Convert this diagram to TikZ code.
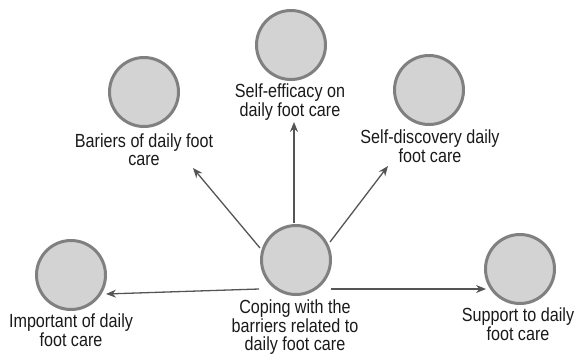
\documentclass[tikz,border=0pt]{standalone}
\usepackage{fontspec}
\setmainfont{Liberation Sans}[FakeStretch=0.85]
\usetikzlibrary{arrows.meta}
\definecolor{ringc}{HTML}{808080}
\definecolor{fillc}{HTML}{D3D3D3}
\definecolor{arrc}{HTML}{555555}
\definecolor{txtc}{HTML}{1A1A1A}
\tikzset{
  bubble/.style={circle, draw=ringc, fill=fillc, line width=3pt, minimum size=69pt, inner sep=0pt},
  lbl/.style={anchor=base, align=center, inner sep=0pt, text=txtc, font=\fontsize{19pt}{17.6pt}\selectfont},
  arr/.style={draw=arrc, line width=1.3pt, -{Stealth[length=10pt,width=8pt]}}
}
\begin{document}
\begin{tikzpicture}[x=1pt,y=-1pt]
\useasboundingbox (0,0) rectangle (574,354);
\node[bubble] (C) at (296,260) {};
\node[bubble] (T) at (291,45) {};
\node[bubble] (B) at (144,92) {};
\node[bubble] (D) at (429,90) {};
\node[bubble] (I) at (71,275) {};
\node[bubble] (S) at (520,269) {};

\node[lbl] (Ct) at (295,350) {Coping with the\\barriers related to\\daily foot care};
\node[lbl] (Tt) at (290,116) {Self-efficacy on\\daily foot care};
\node[lbl] (Bt) at (144,165) {Bariers of daily foot\\care};
\node[lbl] (Dt) at (430,162) {Self-discovery daily\\foot care};
\node[lbl] (It) at (71,346) {Important of daily\\foot care};
\node[lbl] (St) at (518,340) {Support to daily\\foot care};

\coordinate (cI) at ([shift={(-37,29)}]C.center);
\coordinate (cS) at ([shift={(35,29)}]C.center);
\coordinate (cB) at ([shift={(-36,-12)}]C.center);
\coordinate (cT) at ([shift={(-2,-37)}]C.center);
\coordinate (cD) at ([shift={(34,-18)}]C.center);
\coordinate (eI) at ([shift={(35,19)}]I.center);
\coordinate (eS) at ([shift={(-34,20)}]S.center);
\coordinate (eB) at ([shift={(49,76)}]B.center);
\coordinate (eT) at ([shift={(3,77)}]T.center);
\coordinate (eD) at ([shift={(-41,76)}]D.center);

\draw[arr] (cI) -- (eI);
\draw[arr] (cS) -- (eS);
\draw[arr] (cB) -- (eB);
\draw[arr] (cT) -- (eT);
\draw[arr] (cD) -- (eD);
\end{tikzpicture}
\end{document}
